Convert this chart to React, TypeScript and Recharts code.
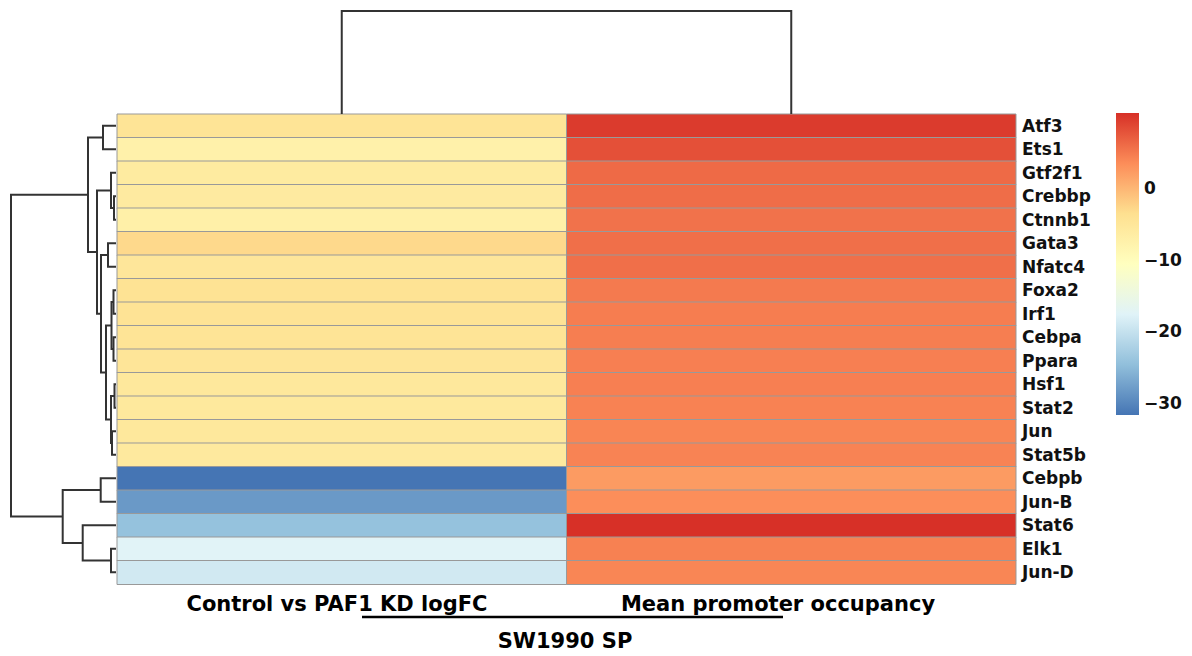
import React from "react";
import { Bar, BarChart, Cell, Scatter, ScatterChart, XAxis, YAxis } from "recharts";

// rows top to bottom, as ordered by the clustering
const GENES = [
  "Atf3", "Ets1", "Gtf2f1", "Crebbp", "Ctnnb1", "Gata3", "Nfatc4", "Foxa2", "Irf1", "Cebpa",
  "Ppara", "Hsf1", "Stat2", "Jun", "Stat5b", "Cebpb", "Jun-B", "Stat6", "Elk1", "Jun-D",
];
const COLUMNS = ["Control vs PAF1 KD logFC", "Mean promoter occupancy"];
const LOGFC = [
  -4.5, -7.4, -6.0, -5.9, -7.2, -3.0, -5.0, -4.2, -4.3, -4.5,
  -4.8, -5.4, -5.5, -5.3, -5.6, -31.7, -28.3, -24.3, -17.5, -19.0,
];
const OCCUPANCY = [
  9.7, 8.1, 6.1, 5.9, 5.5, 5.7, 5.7, 4.9, 4.7, 4.6,
  4.5, 4.5, 4.3, 4.1, 4.2, 2.3, 3.4, 10.5, 4.4, 4.0,
];

// hclust-style merges: negative = leaf (1-based row), positive = earlier merge; third = height
const ROW_MERGES: [number, number, number][] = [
  [-12, -13, 1.5],
  [-4, -5, 2],
  [-8, -9, 2.5],
  [-10, -11, 2.5],
  [-14, -15, 4],
  [3, 4, 4.5],
  [-3, 2, 5],
  [1, 5, 5],
  [-19, -20, 5],
  [-6, -7, 8],
  [6, 8, 10],
  [-1, -2, 13],
  [10, 11, 15],
  [-16, -17, 15.3],
  [7, 13, 19],
  [12, 15, 28],
  [-18, 9, 33.3],
  [14, 17, 53.3],
  [16, 18, 105],
];
const COL_MERGES: [number, number, number][] = [[-1, -2, 1]];

const LEGEND_TICKS = [0, -10, -20, -30];
const PALETTE = ["#4575B4", "#91BFDB", "#E0F3F8", "#FFFFBF", "#FEE090", "#FC8D59", "#D73027"];

const FONT = "'DejaVu Sans', Arial, sans-serif";
const LINE = "#333333";

const ALL = [...LOGFC, ...OCCUPANCY];
const VMIN = Math.min(...ALL);
const VMAX = Math.max(...ALL);

function hex(c: string) {
  return [1, 3, 5].map((i) => parseInt(c.slice(i, i + 2), 16));
}

function colorFor(v: number) {
  const t = Math.max(0, Math.min(1, (v - VMIN) / (VMAX - VMIN))) * (PALETTE.length - 1);
  const i = Math.min(PALETTE.length - 2, Math.floor(t));
  const f = t - i;
  const a = hex(PALETTE[i]);
  const b = hex(PALETTE[i + 1]);
  const rgb = a.map((x, k) => Math.round(x + (b[k] - x) * f));
  return `rgb(${rgb.join(",")})`;
}

type Pt = { pos: number; h: number };

// one U-shaped polyline per merge
function dendroSegments(merges: [number, number, number][]) {
  const nodes: Pt[] = [];
  const segs: Pt[][] = [];
  const get = (id: number): Pt => (id < 0 ? { pos: -id - 0.5, h: 0 } : nodes[id - 1]);
  merges.forEach(([a, b, h]) => {
    const A = get(a);
    const B = get(b);
    segs.push([
      { pos: A.pos, h: A.h },
      { pos: A.pos, h },
      { pos: B.pos, h },
      { pos: B.pos, h: B.h },
    ]);
    nodes.push({ pos: (A.pos + B.pos) / 2, h });
  });
  return segs;
}

const noDot = () => <g />;

const rows = GENES.map((gene, i) => ({
  gene,
  logFC: LOGFC[i],
  occupancy: OCCUPANCY[i],
  col1: 1,
  col2: 1,
}));

const minus = (v: number) => (v < 0 ? `\u2212${Math.abs(v)}` : String(v));

export default function App() {
  const rowSegs = dendroSegments(ROW_MERGES);
  const colSegs = dendroSegments(COL_MERGES);
  const rowMax = Math.max(...ROW_MERGES.map((m) => m[2]));
  const colMax = Math.max(...COL_MERGES.map((m) => m[2]));

  return (
    <div style={{ position: "absolute", left: 0, top: 0, width: 1192, height: 656, background: "#fff" }}>
      {/* heatmap */}
      <div style={{ position: "absolute", left: 0, top: 0 }}>
        <BarChart
          width={1192}
          height={656}
          data={rows}
          layout="vertical"
          barCategoryGap={0}
          margin={{ top: 114, right: 96, bottom: 72, left: 117 }}
        >
          <XAxis type="number" domain={[0, 2]} hide />
          <YAxis
            type="category"
            dataKey="gene"
            orientation="right"
            width={80}
            interval={0}
            axisLine={false}
            tickLine={false}
            tickSize={0}
            tickMargin={6}
            tick={{ fill: "#111", fontSize: 17, fontWeight: "bold", fontFamily: FONT }}
          />
          <Bar dataKey="col1" stackId="cells" stroke="#999999" strokeWidth={1} isAnimationActive={false}>
            {rows.map((r, i) => (
              <Cell key={i} fill={colorFor(r.logFC)} />
            ))}
          </Bar>
          <Bar dataKey="col2" stackId="cells" stroke="#999999" strokeWidth={1} isAnimationActive={false}>
            {rows.map((r, i) => (
              <Cell key={i} fill={colorFor(r.occupancy)} />
            ))}
          </Bar>
        </BarChart>
      </div>

      {/* row dendrogram */}
      <div style={{ position: "absolute", left: 0, top: 0 }}>
        <ScatterChart width={117} height={656} margin={{ top: 114, right: 1, bottom: 72, left: 11 }}>
          <XAxis type="number" dataKey="h" domain={[0, rowMax]} reversed hide />
          <YAxis type="number" dataKey="pos" domain={[0, GENES.length]} reversed hide />
          {rowSegs.map((s, i) => (
            <Scatter
              key={i}
              data={s}
              line={{ stroke: LINE, strokeWidth: 2 }}
              shape={noDot}
              isAnimationActive={false}
            />
          ))}
        </ScatterChart>
      </div>

      {/* column dendrogram */}
      <div style={{ position: "absolute", left: 0, top: 0 }}>
        <ScatterChart width={1192} height={115} margin={{ top: 11, right: 176, bottom: 1, left: 117 }}>
          <XAxis type="number" dataKey="pos" domain={[0, COLUMNS.length]} hide />
          <YAxis type="number" dataKey="h" domain={[0, colMax]} hide />
          {colSegs.map((s, i) => (
            <Scatter
              key={i}
              data={s}
              line={{ stroke: LINE, strokeWidth: 2 }}
              shape={noDot}
              isAnimationActive={false}
            />
          ))}
        </ScatterChart>
      </div>

      {/* colour key */}
      <div style={{ position: "absolute", left: 1116, top: 0 }}>
        <BarChart
          width={83}
          height={656}
          data={[{ name: "key", range: [VMIN, VMAX] }]}
          barCategoryGap={0}
          margin={{ top: 113, right: 0, bottom: 241, left: 0 }}
        >
          <defs>
            <linearGradient id="keyGrad" x1="0" y1="1" x2="0" y2="0">
              {PALETTE.map((c, k) => (
                <stop key={k} offset={k / (PALETTE.length - 1)} stopColor={c} />
              ))}
            </linearGradient>
          </defs>
          <XAxis dataKey="name" hide />
          <YAxis
            type="number"
            orientation="right"
            domain={[VMIN, VMAX]}
            allowDataOverflow
            ticks={LEGEND_TICKS}
            tickFormatter={minus}
            width={60}
            axisLine={false}
            tickLine={false}
            tickSize={0}
            tickMargin={5}
            tick={{ fill: "#111", fontSize: 17, fontWeight: "bold", fontFamily: FONT }}
          />
          <Bar dataKey="range" fill="url(#keyGrad)" isAnimationActive={false} />
        </BarChart>
      </div>

      {/* column labels */}
      <svg width={1192} height={656} style={{ position: "absolute", left: 0, top: 0, pointerEvents: "none" }}>
        <g fontFamily={FONT} fontWeight="bold" fontSize={21} fill="#000" textAnchor="middle">
          <text x={337} y={611}>{COLUMNS[0]}</text>
          <text x={778} y={611}>{COLUMNS[1]}</text>
          <text x={565} y={648}>SW1990 SP</text>
        </g>
        <line x1={362} y1={617} x2={783} y2={617} stroke="#000" strokeWidth={2.5} />
      </svg>
    </div>
  );
}
